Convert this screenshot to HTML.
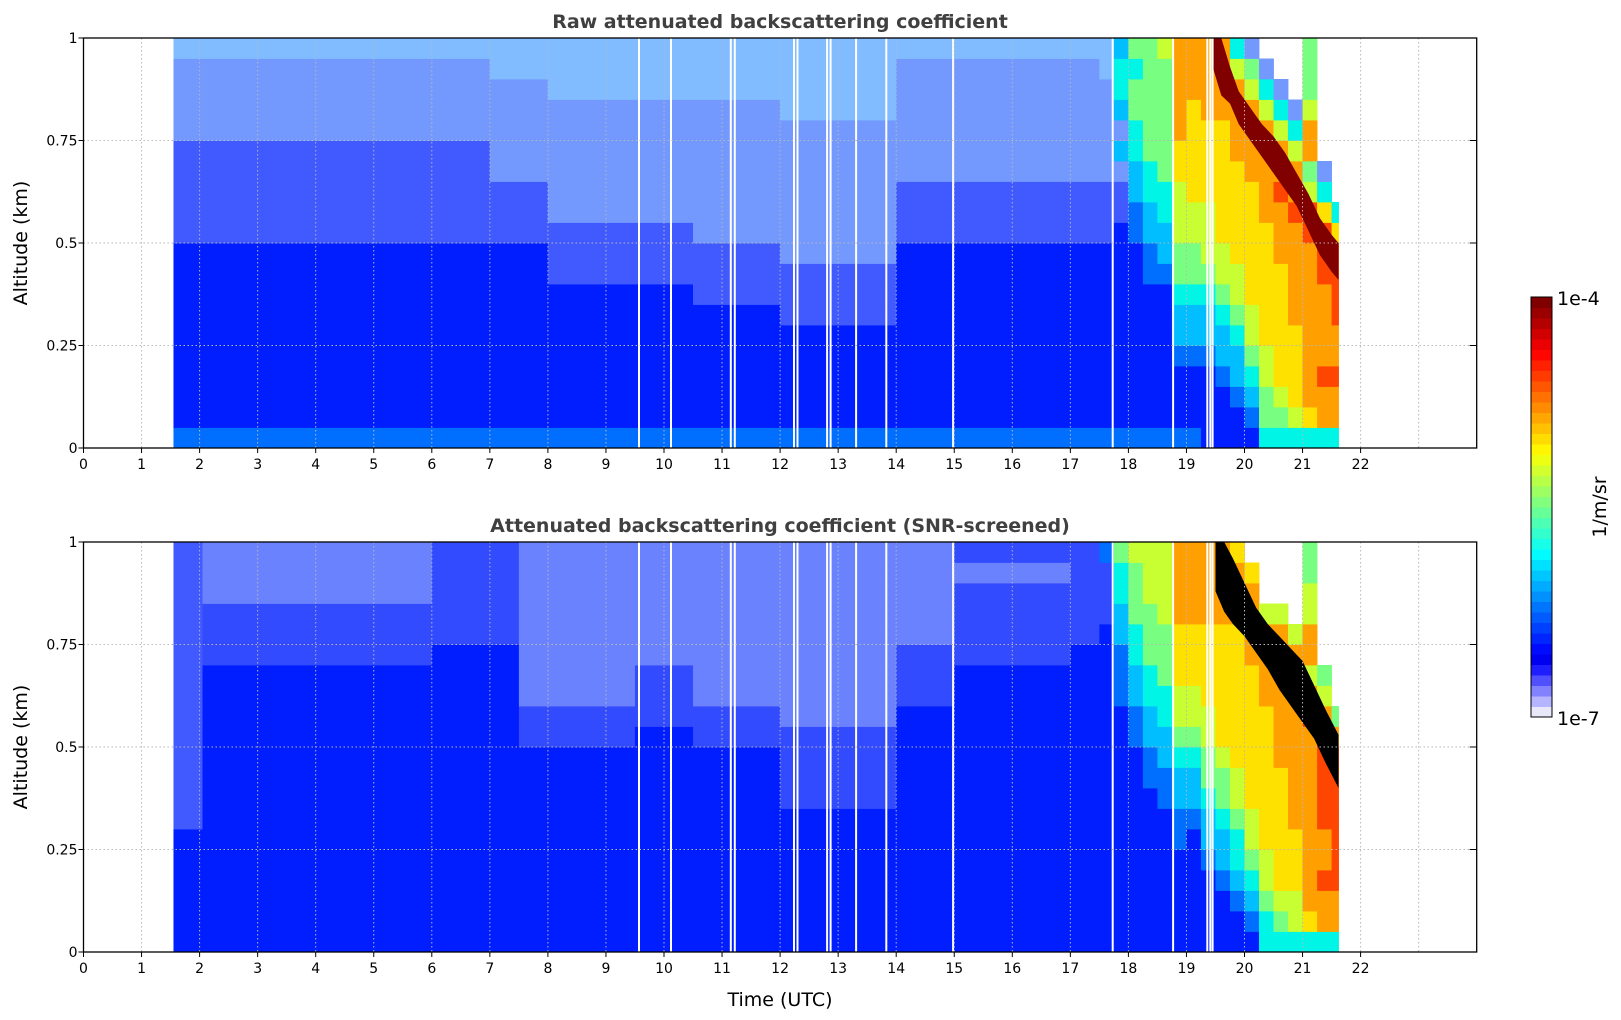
<!DOCTYPE html>
<html><head><meta charset="utf-8"><title>Attenuated backscattering</title>
<style>
html,body{margin:0;padding:0;background:#fff;}
svg{display:block;font-family:"DejaVu Sans","Liberation Sans",sans-serif;}
</style></head>
<body>
<svg id="fig" width="1621" height="1020" viewBox="0 0 1621 1020" xmlns="http://www.w3.org/2000/svg">
  <text x="780" y="28" text-anchor="middle" font-size="19" font-weight="bold" fill="#404040">Raw attenuated backscattering coefficient</text>
  <text x="780" y="532" text-anchor="middle" font-size="19" font-weight="bold" fill="#404040">Attenuated backscattering coefficient (SNR-screened)</text>
  <text transform="translate(27,243) rotate(-90)" text-anchor="middle" font-size="19">Altitude (km)</text>
  <text transform="translate(27,747) rotate(-90)" text-anchor="middle" font-size="19">Altitude (km)</text>
  <text x="780" y="1006" text-anchor="middle" font-size="19">Time (UTC)</text>
  <g id="topPlot"></g>
  <g id="botPlot"></g>
  <g id="cbar"></g>
  <text x="1557" y="305" font-size="19">1e-4</text>
  <text x="1557" y="725" font-size="19">1e-7</text>
  <text transform="translate(1606,507) rotate(-90)" text-anchor="middle" font-size="19">1/m/sr</text>
</svg>
<script>
// ---- data ----
const xTicks = [0,1,2,3,4,5,6,7,8,9,10,11,12,13,14,15,16,17,18,19,20,21,22];
const yTicks = [0,0.25,0.5,0.75,1];
const yTickLabels = ["0","0.25","0.5","0.75","1"];
const rawSegStart = [1.55,7,8,10.5,12,14,17.5,17.75,18,18.25,18.5,18.75,19,19.25,19.5,19.75,20,20.25,20.5,20.75,21,21.25,21.5];
const rawSegEnd   = [7,8,10.5,12,14,17.5,17.75,18,18.25,18.5,18.75,19,19.25,19.5,19.75,20,20.25,20.5,20.75,21,21.25,21.5,21.62];
const rawProfiles = [
 "2111 1111 11aa aaab bbbc","2111 1111 11aa abbb bbcc","2111 1111 aaab bbbb bccc","2111 111a aabb bbbb bccc",
 "2111 11aa abbb bbbb cccc","2111 1111 11aa abbb bbbc","2111 1111 11aa abbb bbcc","2111 1111 111a ab3b 3443",
 "2111 1111 1122 3344 5545","2111 1111 2233 4455 5555","2111 1111 2334 4555 5556","2111 2334 5566 6778 8888",
 "2111 2334 5566 7777 7888","1111 2334 5666 7777 8888","1112 3345 6677 7777 8888","1123 3456 6777 7788 8864",
 "1234 5667 7777 7888 865b","4556 6777 7778 8888 64bw","4567 7777 7888 9886 4bww","4677 7788 8889 8864 bwww",
 "4788 8888 8899 6588 6555","4889 8888 9997 4bww wwww","4889 8899 9974 wwww wwww"];
const snrSegStart = [1.55,2.05,6,7.5,9.5,10.5,12,14,15,17,17.5,17.75,18,18.25,18.5,18.75,19,19.25,19.5,19.75,20,20.25,20.5,20.75,21,21.25,21.5];
const snrSegEnd   = [2.05,6,7.5,9.5,10.5,12,14,15,17,17.5,17.75,18,18.25,18.5,18.75,19,19.25,19.5,19.75,20,20.25,20.5,20.75,21,21.25,21.5,21.62];
const snrProfiles = [
 "1111 11aa aaaa aaaa aaaa","1111 1111 1111 11pp pqqq","1111 1111 1111 111p pppp","1111 1111 11pp qqqq qqqq",
 "1111 1111 111p ppqq qqqq","1111 1111 11pp qqqq qqqq","1111 111p pppq qqqq qqqq","1111 1111 1111 pppq qqqq",
 "1111 1111 1111 11pp ppqp","1111 1111 1111 111p pppp","1111 1111 1111 1111 ppp2","1111 1111 1111 2223 3445",
 "1111 1111 1122 3344 5556","1111 1111 2233 4455 5666","1111 1112 2334 4555 6666","1111 1223 3456 6777 8888",
 "1111 1123 3456 6777 8888","1111 2334 5566 7777 8888","1112 3345 5677 7777 8888","1123 4456 6777 7777 8887",
 "1234 5667 7777 7788 887w","4456 6777 7777 8888 6www","4567 7777 7888 8888 6www","4667 7788 8888 8886 wwww",
 "4788 8888 8889 8688 6655","4889 8899 9998 65ww wwww","4889 9999 9985 wwww wwww"];
const rawBandTime = [19.45,19.6,19.75,19.9,20.1,20.3,20.5,20.7,20.9,21.1,21.3,21.5,21.62];
const rawBandLow  = [0.93,0.86,0.84,0.79,0.75,0.71,0.67,0.63,0.59,0.53,0.47,0.43,0.41];
const rawBandHigh = [1.0,1.0,0.93,0.87,0.83,0.79,0.76,0.72,0.67,0.62,0.56,0.52,0.50];
const snrBandTime = [19.5,19.65,19.8,20.0,20.2,20.4,20.6,20.8,21.0,21.2,21.4,21.62];
const snrBandLow  = [0.88,0.83,0.80,0.77,0.73,0.69,0.64,0.60,0.56,0.52,0.46,0.40];
const snrBandHigh = [1.0,1.0,0.96,0.90,0.84,0.80,0.77,0.74,0.71,0.65,0.59,0.53];
const gapTimes = [9.57,10.12,11.15,11.22,12.24,12.3,12.81,12.87,13.31,13.83,14.98,17.73,18.77,19.36,19.41,19.45];

// ---- geometry ----
const NS="http://www.w3.org/2000/svg";
const X0=83.5, PPH=58.05, XR=X0+24*PPH;
const xs = t => X0 + t*PPH;
function jet(x){const c=v=>Math.round(255*Math.max(0,Math.min(1,v)));
 return [c(1.5-Math.abs(4*x-3)),c(1.5-Math.abs(4*x-2)),c(1.5-Math.abs(4*x-1))];}
const levelColors = [[0,0,200],[0,30,255],[0,110,255],[0,190,255],[0,245,230],[120,255,130],[200,255,50],[255,225,0],[255,160,0],[255,70,0]];
function mix(c,f){return c.map(v=>Math.round(v*(1-f)+255*f));}
function rgb(c){return `rgb(${c[0]},${c[1]},${c[2]})`;}
function codeColor(ch){
 if(ch>='0'&&ch<='9') return rgb(levelColors[+ch]);
 switch(ch){case 'a':return rgb(mix([0,35,255],0.25));case 'b':return rgb(mix([0,70,255],0.45));
 case 'c':return rgb(mix([0,120,255],0.5));case 'p':return rgb(mix([0,30,255],0.2));
 case 'q':return rgb(mix([0,40,255],0.42));default:return '#ffffff';}
}
function el(tag,attrs,parent){const e=document.createElementNS(NS,tag);for(const k in attrs)e.setAttribute(k,attrs[k]);parent.appendChild(e);return e;}

function drawPlot(g,top,bot,segS,segE,profs,bT,bL,bH,bandColor,tickLabelY,prefix){
 const H=bot-top, ys=a=>bot-a*H;
 for(let i=0;i<profs.length;i++){
  const p=profs[i].replace(/ /g,'');
  const x1=xs(segS[i]), x2=xs(segE[i]);
  for(let r=0;r<20;r++){
   const ch=p[r]||'w'; if(ch==='w') continue;
   const cell=el('rect',{x:x1.toFixed(2),y:ys((r+1)*0.05).toFixed(2),width:(x2-x1+0.4).toFixed(2),height:(H*0.05+0.4).toFixed(2),fill:codeColor(ch)},g);
   
   
  }
 }
 let pts=[];
 for(let i=0;i<bT.length;i++) pts.push(xs(bT[i]).toFixed(1)+','+ys(bH[i]).toFixed(1));
 for(let i=bT.length-1;i>=0;i--) pts.push(xs(bT[i]).toFixed(1)+','+ys(bL[i]).toFixed(1));
 const band=el('polygon',{points:pts.join(' '),fill:bandColor},g);
 
 
 for(const t of gapTimes){
  const gap=el('rect',{x:(xs(t)-1).toFixed(1),y:top,width:2,height:H,fill:'#fff'},g);
  
  
 }
 for(let h=1;h<24;h++){
  const gl=el('line',{x1:xs(h),x2:xs(h),y1:top,y2:bot,stroke:'#b8b8b8','stroke-width':1,'stroke-dasharray':'1.5,2.5'},g);
  
  
 }
 for(const v of [0.25,0.5,0.75]){
  const gl=el('line',{x1:X0,x2:XR,y1:ys(v),y2:ys(v),stroke:'#b8b8b8','stroke-width':1,'stroke-dasharray':'1.5,2.5'},g);
  
  
 }
 const fr=el('rect',{x:X0,y:top,width:XR-X0,height:H,fill:'none',stroke:'#000','stroke-width':1.3},g);
 
 
 yTicks.forEach((v,i)=>{
  el('line',{x1:X0-5,x2:X0,y1:ys(v),y2:ys(v),stroke:'#000','stroke-width':1},g);
  el('line',{x1:XR-7,x2:XR,y1:ys(v),y2:ys(v),stroke:'#000','stroke-width':1},g);
  const tl=el('text',{x:X0-6,y:ys(v)+5,'text-anchor':'end','font-size':14},g);
  tl.textContent=yTickLabels[i];
  
  
 });
 xTicks.forEach(h=>{
  el('line',{x1:xs(h),x2:xs(h),y1:bot,y2:bot+5,stroke:'#000','stroke-width':1},g);
  const tl=el('text',{x:xs(h),y:tickLabelY,'text-anchor':'middle','font-size':14},g);
  tl.textContent=String(h);
  
  
 });
}
drawPlot(document.getElementById('topPlot'),38,448,rawSegStart,rawSegEnd,rawProfiles,rawBandTime,rawBandLow,rawBandHigh,'#800000',469,'top');
drawPlot(document.getElementById('botPlot'),542,952,snrSegStart,snrSegEnd,snrProfiles,snrBandTime,snrBandLow,snrBandHigh,'#000000',973,'bottom');

const cb=document.getElementById('cbar');
const CBX=1531,CBW=21,CBT=297,CBB=717,NL=40;
const lowColors=[[232,232,250],[180,180,255],[130,130,255],[80,80,255],[30,30,255]];
for(let i=0;i<NL;i++){
 let c = i<lowColors.length ? lowColors[i] : jet(0.11+(i-lowColors.length)/(NL-lowColors.length-1)*0.89);
 const h=(CBB-CBT)/NL;
 const r=el('rect',{x:CBX,y:(CBB-(i+1)*h).toFixed(2),width:CBW,height:(h+0.5).toFixed(2),fill:rgb(c)},cb);
 
 
}
el('rect',{x:CBX,y:CBT,width:CBW,height:CBB-CBT,fill:'none',stroke:'#000','stroke-width':1},cb);
</script>
</body></html>
